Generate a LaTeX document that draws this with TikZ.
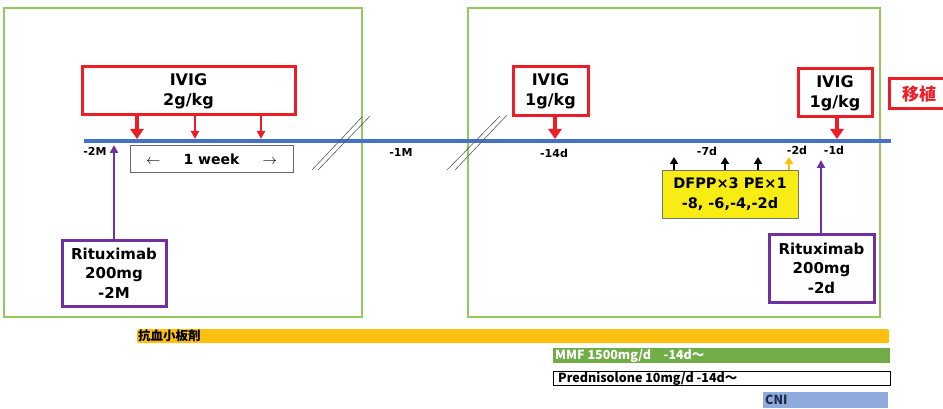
\documentclass[tikz,border=0pt]{standalone}
\usepackage{fontspec}
\setmainfont{DejaVu Sans}
\newfontfamily\jpfont{Noto Sans CJK JP}
\usetikzlibrary{arrows.meta}

\definecolor{framegreen}{HTML}{92C95A}
\definecolor{tlblue}{HTML}{4472C4}
\definecolor{ivigred}{HTML}{EE1C25}
\definecolor{rtxpurple}{HTML}{7030A0}
\definecolor{dfppyellow}{HTML}{F7EC13}
\definecolor{amber}{HTML}{FFC000}
\definecolor{barorange}{HTML}{FEC010}
\definecolor{bargreen}{HTML}{70AD47}
\definecolor{barblue}{HTML}{8FAADC}
\definecolor{navytext}{HTML}{1F2A44}

\tikzset{
  frame/.style={draw=framegreen, line width=2pt},
  redbox/.style={draw=ivigred, line width=3pt, fill=white, align=center,
    inner sep=0pt, font=\bfseries\fontsize{16}{20}\selectfont},
  rtxbox/.style={draw=rtxpurple, line width=3pt, fill=white, align=center,
    inner sep=0pt, font=\bfseries\fontsize{15}{19.5}\selectfont},
  tlabel/.style={inner sep=0pt, font=\bfseries\fontsize{11}{13}\selectfont},
  bigdown/.style={draw=ivigred, line width=4.5pt,
    -{Triangle[length=10pt,width=13pt]}},
  thindown/.style={draw=ivigred, line width=2pt,
    -{Triangle[length=8pt,width=8pt]}},
  smallup/.style={line width=2pt, -{Triangle[length=7pt,width=8pt]}},
  purpup/.style={draw=rtxpurple, line width=2.5pt,
    -{Triangle[length=8pt,width=8pt]}},
  breakmark/.style={draw=black!65, line width=0.6pt},
  bar/.style={minimum height=15pt, inner sep=0pt, anchor=north west},
  bartext/.style={anchor=west, inner sep=0pt,
    font=\jpfont\bfseries\fontsize{12.5}{14}\selectfont}
}

\begin{document}
\begin{tikzpicture}[x=1pt,y=-1pt]
\useasboundingbox (0,0) rectangle (943,409);

% the two phase frames
\draw[frame] (4,8) rectangle (362,317);
\draw[frame] (468,8) rectangle (880,317);

% timeline
\coordinate (tlS) at (84,141);
\coordinate (tlE) at (891,141);
\draw[line width=4pt, tlblue] (tlS) -- (tlE);

% break marks on the timeline
\draw[breakmark] (312,170) -- (362,117);
\draw[breakmark] (318,170) -- (370,116);
\draw[breakmark] (447,170) -- (500,116);
\draw[breakmark] (455,170) -- (507,115);

% time labels
\node[tlabel] (lm2M) at (95,151) {-2M};
\node[tlabel] (lm1M) at (401,152) {-1M};
\node[tlabel] (lm14) at (554,153) {-14d};
\node[tlabel] (lm7) at (707,151) {-7d};
\node[tlabel] (lm2) at (797,150) {-2d};
\node[tlabel] (lm1) at (834,150) {-1d};

% IVIG boxes
\node[redbox, minimum width=213pt, minimum height=48pt] (ivigA) at (188.5,91) {IVIG\\2g/kg};
\node[redbox, minimum width=75pt, minimum height=49pt] (ivigB) at (550.5,91.5) {IVIG\\1g/kg};
\node[redbox, minimum width=74pt, minimum height=48pt] (ivigC) at (835,93) {IVIG\\1g/kg};
\node[draw=ivigred, line width=3pt, fill=white, inner sep=0pt,
      minimum width=60pt, minimum height=30pt, text=ivigred,
      font=\jpfont\bfseries\fontsize{17}{20}\selectfont] (tx) at (919,94) {移植};

% IVIG doses on the timeline
\coordinate (d1) at (137,139);
\coordinate (d2) at (195,139);
\coordinate (d3) at (261,139);
\coordinate (d14) at (555,139);
\coordinate (d1d) at (837,139);
\draw[bigdown] (ivigA.south -| d1) -- (d1);
\draw[thindown] (ivigA.south -| d2) -- (d2);
\draw[thindown] (ivigA.south -| d3) -- (d3);
\draw[bigdown] (ivigB.south -| d14) -- (d14);
\draw[bigdown] (ivigC.south -| d1d) -- (d1d);

% one week span
\node[draw=black!60, line width=1pt, minimum width=163pt, minimum height=27pt,
      inner sep=0pt, font=\bfseries\fontsize{14}{16}\selectfont] (week) at (211.5,159.5)
      {\makebox[131pt]{\fontsize{14}{16}\selectfont$\leftarrow$\hfill 1 week\hfill$\rightarrow$}};

% rituximab
\node[rtxbox, minimum width=104pt, minimum height=66pt] (rtxA) at (114,273) {Rituximab\\200mg\\-2M};
\node[rtxbox, minimum width=105pt, minimum height=68pt] (rtxB) at (821.5,268) {Rituximab\\200mg\\-2d};
\coordinate (rA) at (114,145);
\coordinate (rB) at (821,160);
\draw[purpup] (rtxA.north) -- (rA);
\draw[purpup] (rtxB.north -| rB) -- (rB);

% apheresis
\node[draw=black!55, line width=1pt, fill=dfppyellow, minimum width=136pt,
      minimum height=47pt, inner sep=0pt, align=center,
      font=\bfseries\fontsize{14.5}{20}\selectfont] (dfpp) at (730,194.5)
      {DFPP×3 PE×1\\-8, -6,-4,-2d};
\coordinate (p1) at (674,157);
\coordinate (p2) at (725,157);
\coordinate (p3) at (758,157);
\coordinate (p4) at (789,157);
\draw[smallup, black] (dfpp.north -| p1) -- (p1);
\draw[smallup, black] (dfpp.north -| p2) -- (p2);
\draw[smallup, black] (dfpp.north -| p3) -- (p3);
\draw[smallup, amber] (dfpp.north -| p4) -- (p4);

% medication bars
\node[bar, fill=barorange, rounded corners=2pt, minimum width=752pt, minimum height=14pt] (anti) at (137,329) {};
\node[bartext] (antiT) at ([xshift=1pt]anti.west) {抗血小板剤};
\node[bar, fill=bargreen, minimum width=337pt] (mmf) at (553,348) {};
\node[bartext, text=white] (mmfT) at ([xshift=2pt]mmf.west) {MMF 1500mg/d　-14d～};
\node[bar, draw=black, line width=0.8pt, fill=white, minimum width=337pt, minimum height=14pt] (pred) at (553,371) {};
\node[bartext] (predT) at ([xshift=5pt]pred.west) {Prednisolone 10mg/d -14d～};
\node[bar, fill=barblue, minimum width=125pt, minimum height=16pt] (cni) at (763,392) {};
\node[bartext, text=navytext] (cniT) at ([xshift=2pt]cni.west) {CNI};
\end{tikzpicture}
\end{document}
